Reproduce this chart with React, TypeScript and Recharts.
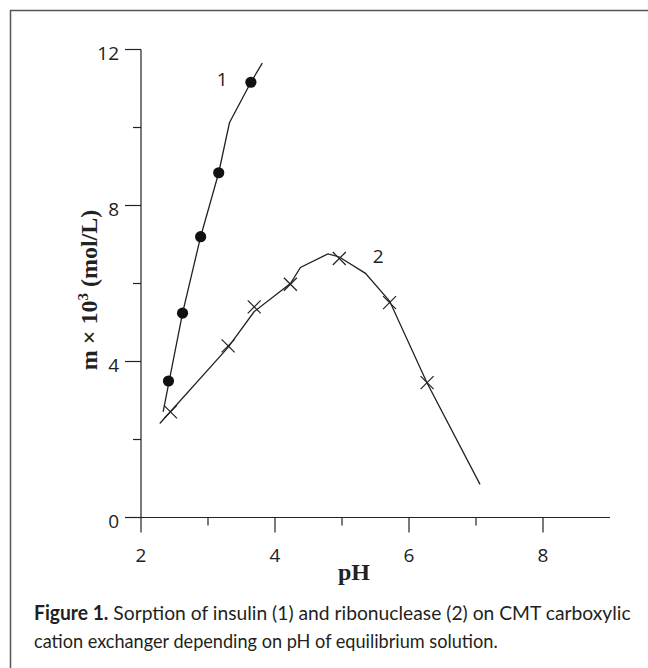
import { useLayoutEffect, useRef, useState } from 'react'
import { ComposedChart, Line, Scatter, XAxis, YAxis } from 'recharts'

// insulin (1): measured points and drawn curve
const insulinPH = [2.41, 2.62, 2.89, 3.16, 3.64]
const insulinM = [3.5, 5.24, 7.2, 8.84, 11.16]
const insulinCurvePH = [2.33, 2.62, 2.89, 3.16, 3.32, 3.64, 3.81]
const insulinCurveM = [2.71, 5.24, 7.2, 8.84, 10.12, 11.16, 11.65]

// ribonuclease (2)
const riboPH = [2.44, 3.3, 3.69, 4.23, 4.96, 5.71, 6.27]
const riboM = [2.71, 4.4, 5.4, 5.98, 6.64, 5.51, 3.46]
const riboCurvePH = [2.28, 3.3, 3.69, 4.23, 4.38, 4.79, 4.96, 5.35, 5.71, 6.27, 7.06]
const riboCurveM = [2.41, 4.36, 5.28, 6.0, 6.41, 6.76, 6.68, 6.26, 5.55, 3.45, 0.85]

const curveLabels = ['1', '2']
const curveLabelPH = [3.21, 5.54]
const curveLabelM = [11.24, 6.7]

const xTicks = [2, 3, 4, 5, 6, 7, 8]
const yTicks = [0, 2, 4, 6, 8, 10, 12]

const toPoints = (xs: number[], ys: number[]) => xs.map((x, i) => ({ x, y: ys[i] }))

const insulinPts = toPoints(insulinPH, insulinM)
const insulinCurve = toPoints(insulinCurvePH, insulinCurveM)
const riboPts = toPoints(riboPH, riboM)
const riboCurve = toPoints(riboCurvePH, riboCurveM)
const labelPts = curveLabels.map((t, i) => ({ x: curveLabelPH[i], y: curveLabelM[i], t }))

const INK = '#222'
const TICK_FONT = '"Open Sans", sans-serif'

const XTick = ({ x, y, payload }: any) => {
  const major = payload.value % 2 === 0
  return (
    <g>
      <line x1={x} x2={x} y1={y} y2={y + (major ? 15 : 8)} stroke={INK} strokeWidth={1.2} />
      {major && (
        <text x={x} y={y + 37} textAnchor="middle" dominantBaseline="central"
          fontFamily={TICK_FONT} fontSize={19} fill={INK}>
          {payload.value}
        </text>
      )}
    </g>
  )
}

const YTick = ({ x, y, payload }: any) => {
  const major = payload.value % 4 === 0
  return (
    <g>
      <line x1={x - (major ? 16 : 8)} x2={x} y1={y} y2={y} stroke={INK} strokeWidth={1.2} />
      {major && (
        <text x={x - 22} y={y + 3} textAnchor="end" dominantBaseline="central"
          fontFamily={TICK_FONT} fontSize={19} fill={INK}>
          {payload.value}
        </text>
      )}
    </g>
  )
}

const Bullet = (p: any) => <circle cx={p.cx} cy={p.cy} r={5.6} fill="#111" />

const Cross = (p: any) => {
  const s = 6.5
  return (
    <path
      d={`M${p.cx - s},${p.cy - s}L${p.cx + s},${p.cy + s}M${p.cx - s},${p.cy + s}L${p.cx + s},${p.cy - s}`}
      stroke={INK} strokeWidth={1.2} fill="none"
    />
  )
}

const CurveLabel = (p: any) => (
  <text x={p.cx} y={p.cy} textAnchor="middle" dominantBaseline="central"
    fontFamily={TICK_FONT} fontSize={19} fill={INK}>
    {p.payload.t}
  </text>
)

// caption line squeezed horizontally to the reference's narrow face
function CaptionLine({ x, y, width, children }: { x: number; y: number; width: number; children: any }) {
  const ref = useRef<SVGTextElement>(null)
  const [sx, setSx] = useState(1)
  useLayoutEffect(() => {
    if (ref.current) {
      const len = ref.current.getComputedTextLength()
      if (len > 0) setSx(width / len)
    }
  }, [width])
  return (
    <text ref={ref} transform={`translate(${x},${y}) scale(${sx},1)`}
      fontFamily="Lato, sans-serif" fontSize={20} fill="#231f20">
      {children}
    </text>
  )
}

export default function App() {
  return (
    <div style={{ position: 'absolute', left: 0, top: 0, width: 648, height: 668, background: '#fff' }}>
      <ComposedChart
        width={648}
        height={668}
        margin={{ top: 49.5, right: 38, bottom: 110.5, left: 81 }}
        style={{ position: 'absolute', left: 0, top: 0 }}
      >
        <XAxis
          type="number"
          dataKey="x"
          domain={[2, 9]}
          ticks={xTicks}
          interval={0}
          allowDataOverflow
          height={40}
          axisLine={{ stroke: INK, strokeWidth: 1.2 }}
          tickLine={false}
          tickSize={0}
          tickMargin={0}
          tick={<XTick />}
        />
        <YAxis
          type="number"
          dataKey="y"
          domain={[0, 12]}
          ticks={yTicks}
          interval={0}
          allowDataOverflow
          width={60}
          axisLine={{ stroke: INK, strokeWidth: 1.2 }}
          tickLine={false}
          tickSize={0}
          tickMargin={0}
          tick={<YTick />}
        />
        <Line data={insulinCurve} dataKey="y" type="linear" stroke={INK} strokeWidth={1.3}
          dot={false} activeDot={false} isAnimationActive={false} />
        <Line data={riboCurve} dataKey="y" type="linear" stroke={INK} strokeWidth={1.3}
          dot={false} activeDot={false} isAnimationActive={false} />
        <Scatter data={insulinPts} dataKey="y" shape={Bullet} isAnimationActive={false} />
        <Scatter data={riboPts} dataKey="y" shape={Cross} isAnimationActive={false} />
        <Scatter data={labelPts} dataKey="y" shape={CurveLabel} isAnimationActive={false} />
      </ComposedChart>

      <svg width={648} height={668} style={{ position: 'absolute', left: 0, top: 0, pointerEvents: 'none' }}>
        <rect x={10.5} y={10.5} width={700} height={700} fill="none" stroke="#555" strokeWidth={1.5} />
        <text transform="translate(97,290) rotate(-90)" textAnchor="middle"
          fontFamily='"Liberation Serif", serif' fontWeight={700} fontSize={24} fill={INK}>
          m × 10<tspan dy={-9} fontSize={15}>3</tspan><tspan dy={9}>{' (mol/L)'}</tspan>
        </text>
        <text x={354} y={580} textAnchor="middle"
          fontFamily='"Liberation Serif", serif' fontWeight={700} fontSize={24} fill={INK}>
          pH
        </text>
        <CaptionLine x={34} y={620} width={597}>
          <tspan fontWeight={700}>Figure 1.</tspan>
          {' Sorption of insulin (1) and ribonuclease (2) on CMT carboxylic'}
        </CaptionLine>
        <CaptionLine x={34} y={648} width={464}>
          cation exchanger depending on pH of equilibrium solution.
        </CaptionLine>
      </svg>
    </div>
  )
}
